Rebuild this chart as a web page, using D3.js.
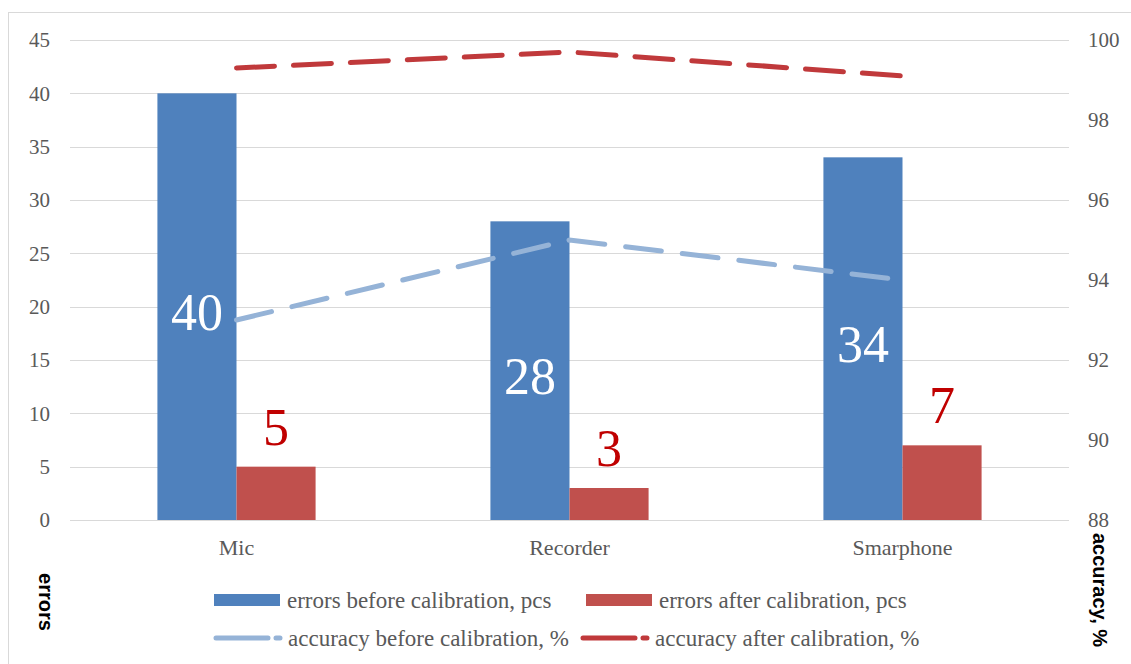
<!DOCTYPE html>
<html>
<head>
<meta charset="utf-8">
<script src="https://cdn.jsdelivr.net/npm/d3@7"></script>
<style>
	body { margin: 0; background: #fff; }
	svg { display: block; }
</style>
</head>
<body>
<div id="chart"></div>
<script>
const categories = ["Mic", "Recorder", "Smarphone"];
const errorsBefore = [40, 28, 34];
const errorsAfter = [5, 3, 7];
const accuracyBefore = [93, 95, 94];
const accuracyAfter = [99.3, 99.7, 99.1];
const leftTicks = [0, 5, 10, 15, 20, 25, 30, 35, 40, 45];
const rightTicks = [88, 90, 92, 94, 96, 98, 100];

const W = 1131, H = 664;
const plot = { left: 70, right: 1069, top: 40, bottom: 520 };
const SERIF = "'Liberation Serif', 'Times New Roman', 'DejaVu Serif', serif";

const svg = d3.select("#chart").append("svg")
	.attr("width", W)
	.attr("height", H);

// chart frame
svg.append("rect")
	.attr("x", 8.5).attr("y", 12.5)
	.attr("width", W).attr("height", H)
	.attr("fill", "none")
	.attr("stroke", "#d9d9d9");

const x = d3.scaleBand()
	.domain(categories)
	.range([plot.left, plot.right])
	.paddingInner(0.525)
	.paddingOuter(0.2625);

const sub = d3.scaleBand()
	.domain(["before", "after"])
	.range([0, x.bandwidth()]);

const yL = d3.scaleLinear().domain([0, 45]).range([plot.bottom, plot.top]);
const yR = d3.scaleLinear().domain([88, 100]).range([plot.bottom, plot.top]);

// gridlines
svg.append("g")
	.selectAll("line")
	.data(leftTicks)
	.enter().append("line")
	.attr("x1", plot.left).attr("x2", plot.right)
	.attr("y1", d => Math.round(yL(d)) + 0.5)
	.attr("y2", d => Math.round(yL(d)) + 0.5)
	.attr("stroke", "#d9d9d9")
	.attr("stroke-width", 1.2);

function styleAxis(g, size) {
	g.select(".domain").remove();
	g.selectAll("text")
		.style("font-family", SERIF)
		.style("font-size", size + "px")
		.attr("fill", "#595959");
}

// left axis
svg.append("g")
	.attr("transform", `translate(${plot.left},0)`)
	.call(d3.axisLeft(yL).tickValues(leftTicks).tickSize(0).tickPadding(20))
	.call(g => styleAxis(g, 21));

// right axis
svg.append("g")
	.attr("transform", `translate(${plot.right},0)`)
	.call(d3.axisRight(yR).tickValues(rightTicks).tickSize(0).tickPadding(19))
	.call(g => styleAxis(g, 21));

// category axis
svg.append("g")
	.attr("transform", `translate(0,${plot.bottom})`)
	.call(d3.axisBottom(x).tickSize(0).tickPadding(19))
	.call(g => styleAxis(g, 22));

// bars
const groups = svg.append("g")
	.selectAll("g")
	.data(categories)
	.enter().append("g")
	.attr("transform", d => `translate(${x(d)},0)`);

groups.append("rect")
	.attr("x", sub("before"))
	.attr("width", sub.bandwidth())
	.attr("y", (d, i) => yL(errorsBefore[i]))
	.attr("height", (d, i) => yL(0) - yL(errorsBefore[i]))
	.attr("fill", "#4f81bd");

groups.append("rect")
	.attr("x", sub("after"))
	.attr("width", sub.bandwidth())
	.attr("y", (d, i) => yL(errorsAfter[i]))
	.attr("height", (d, i) => yL(0) - yL(errorsAfter[i]))
	.attr("fill", "#c0504d");

// lines
const cx = d => x(d) + x.bandwidth() / 2;

const line = d3.line()
	.x(d => cx(d.c))
	.y(d => yR(d.v));

svg.append("path")
	.datum(categories.map((c, i) => ({ c, v: accuracyBefore[i] })))
	.attr("d", line)
	.attr("fill", "none")
	.attr("stroke", "#95b3d7")
	.attr("stroke-width", 5)
	.attr("stroke-linecap", "round")
	.attr("stroke-dasharray", "36,21");

svg.append("path")
	.datum(categories.map((c, i) => ({ c, v: accuracyAfter[i] })))
	.attr("d", line)
	.attr("fill", "none")
	.attr("stroke", "#c0393b")
	.attr("stroke-width", 5)
	.attr("stroke-linecap", "round")
	.attr("stroke-dasharray", "38,19");

// data labels
groups.append("text")
	.attr("x", sub("before") + sub.bandwidth() / 2)
	.attr("y", (d, i) => yL(errorsBefore[i] / 2))
	.attr("dy", "0.44em")
	.attr("text-anchor", "middle")
	.style("font-family", SERIF)
	.style("font-size", "52px")
	.attr("fill", "#fff")
	.text((d, i) => errorsBefore[i]);

groups.append("text")
	.attr("x", sub("after") + sub.bandwidth() / 2)
	.attr("y", (d, i) => yL(errorsAfter[i]) - 22)
	.attr("text-anchor", "middle")
	.style("font-family", SERIF)
	.style("font-size", "52px")
	.attr("fill", "#c00000")
	.text((d, i) => errorsAfter[i]);

// axis titles
svg.append("text")
	.attr("transform", "translate(39,602) rotate(90)")
	.attr("text-anchor", "middle")
	.attr("font-weight", "bold")
	.attr("fill", "#000")
	.style("font-family", "'Liberation Sans', sans-serif")
	.style("font-size", "20px")
	.text("errors");

svg.append("text")
	.attr("transform", "translate(1093,590) rotate(90)")
	.attr("text-anchor", "middle")
	.attr("font-weight", "bold")
	.attr("fill", "#000")
	.style("font-family", "'Liberation Sans', sans-serif")
	.style("font-size", "20px")
	.text("accuracy, %");

// legend
const legend = [
	{ label: "errors before calibration, pcs", type: "bar", color: "#4f81bd", x: 214, y: 600 },
	{ label: "errors after calibration, pcs", type: "bar", color: "#c0504d", x: 586, y: 600 },
	{ label: "accuracy before calibration, %", type: "line", color: "#95b3d7", x: 214, y: 638 },
	{ label: "accuracy after calibration, %", type: "line", color: "#c0393b", x: 581, y: 638 }
];

const lg = svg.append("g")
	.selectAll("g")
	.data(legend)
	.enter().append("g")
	.attr("transform", d => `translate(${d.x},${d.y})`);

lg.filter(d => d.type === "bar").append("rect")
	.attr("x", 0).attr("y", -6)
	.attr("width", 66).attr("height", 12)
	.attr("fill", d => d.color);

lg.filter(d => d.type === "line").append("path")
	.attr("d", "M2,0H54M62,0H66")
	.attr("stroke", d => d.color)
	.attr("stroke-width", 5)
	.attr("stroke-linecap", "round");

lg.append("text")
	.attr("x", d => d.type === "bar" ? 73 : 74)
	.attr("dy", "0.33em")
	.style("font-family", SERIF)
	.style("font-size", "23px")
	.attr("fill", "#595959")
	.text(d => d.label);
</script>
</body>
</html>
